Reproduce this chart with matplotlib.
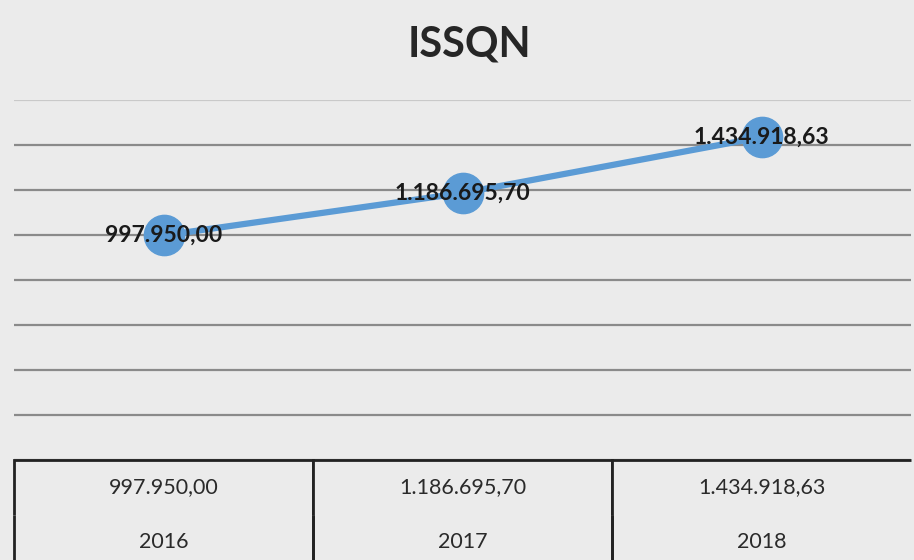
"""ISSQN arrecadado por ano: linha com rótulos e tabela de dados abaixo."""

import matplotlib

matplotlib.use("Agg")
import matplotlib.pyplot as plt

years = ["2016", "2017", "2018"]
issqn = [997950.00, 1186695.70, 1434918.63]
y_ticks = [0, 200000, 400000, 600000, 800000, 1000000, 1200000, 1400000, 1600000]

plt.rcParams["font.family"] = ["Lato", "DejaVu Sans"]

W, H = 914, 560
LEFT, RIGHT = 14, 911
PLOT_TOP, PLOT_BOTTOM = 100, 460
BG = "#ebebeb"
BLUE = "#5b9bd5"


def _fmt_brl(value: float) -> str:
    """Formata no padrão brasileiro: 1.234.567,89."""
    return f"{value:,.2f}".replace(",", "X").replace(".", ",").replace("X", ".")


fig = plt.figure(figsize=(W / 100, H / 100), dpi=100, facecolor=BG)

ax = fig.add_axes([
    LEFT / W,
    (H - PLOT_BOTTOM) / H,
    (RIGHT - LEFT) / W,
    (PLOT_BOTTOM - PLOT_TOP) / H,
])
ax.set_facecolor(BG)
positions = list(range(len(years)))
ax.plot(positions, issqn, color=BLUE, lw=4.5, marker="o", markersize=29,
        markerfacecolor=BLUE, markeredgecolor=BLUE, solid_capstyle="round", zorder=3)
for x, v in zip(positions, issqn):
    ax.text(x, v, _fmt_brl(v), ha="center", va="center", fontsize=16.5,
            fontweight="bold", color="#1a1a1a", zorder=4)
ax.set_xlim(-0.5, len(years) - 0.5)
ax.set_ylim(y_ticks[0], y_ticks[-1])
ax.set_yticks(y_ticks)
ax.set_xticks([])
ax.tick_params(axis="y", length=0, labelleft=False)
ax.grid(axis="y", color="#8a8a8a", lw=1.6)
ax.yaxis.get_gridlines()[-1].set_alpha(0.35)
ax.set_axisbelow(True)
for spine in ax.spines.values():
    spine.set_visible(False)

fig.text(0.514, 1 - 45 / H, "ISSQN", ha="center", va="center", fontsize=30,
         fontweight="bold", color="#262626")

# tabela de dados (valores em cima, anos embaixo); borda direita fica fora do recorte
tab_ax = fig.add_axes([LEFT / W, 0, (RIGHT - LEFT) / W, (H - PLOT_BOTTOM) / H])
tab_ax.axis("off")
table = tab_ax.table(
    cellText=[[_fmt_brl(v) for v in issqn], years],
    cellLoc="center",
    bbox=[0, -0.1, 1, 1.1],
)
table.auto_set_font_size(False)
last_col = len(years) - 1
for (row, col), cell in table.get_celld().items():
    cell.set_facecolor(BG)
    cell.set_edgecolor("#222222")
    cell.set_linewidth(2)
    edges = "TLR" if row == 0 else "LR"
    if col == last_col:
        edges = edges.replace("R", "")
    cell.visible_edges = edges
    cell.get_text().set_fontsize(15.5)
    cell.get_text().set_color("#2a2a2a")

fig.savefig("out.png", dpi=100, facecolor=BG)
plt.close(fig)
